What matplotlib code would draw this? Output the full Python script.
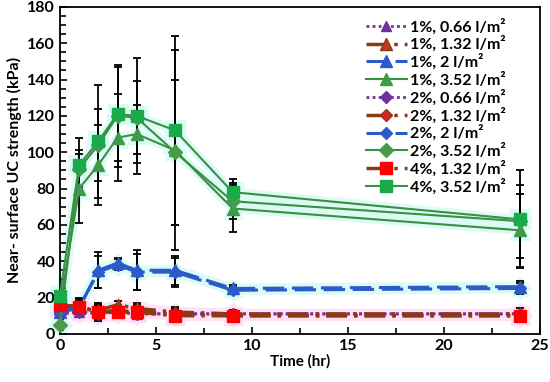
import matplotlib
matplotlib.use("Agg")
import matplotlib.pyplot as plt
from matplotlib.ticker import MultipleLocator

# ==================================
# Data
# ==================================
time_hr = [0, 1, 2, 3, 4, 6, 9, 24]

labels = [
    "1%, 0.66 l/m²",
    "1%, 1.32 l/m²",
    "1%, 2 l/m²",
    "1%, 3.52 l/m²",
    "2%, 0.66 l/m²",
    "2%, 1.32 l/m²",
    "2%, 2 l/m²",
    "2%, 3.52 l/m²",
    "4%, 1.32 l/m²",
    "4%, 3.52 l/m²",
]

p1_066 = [12, 12, 12, 12, 11, 11, 11, 11]
p1_132 = [15, 14, 13, 16, 14, 12, 11, 11]
p1_2 = [12, 14, 35, 39, 35, 35, 25, 26]
p1_352 = [15, 80, 93, 108, 110, 101, 69, 57]
p2_066 = [11, 12, 11, 12, 11, 11, 11, 11]
p2_132 = [14, 15, 12, 13, 12, 11, 10, 10]
p2_2 = [12, 15, 34, 38, 34, 34, 24, 25]
p2_352 = [5, 91, 104, 120, 119, 100, 73, 62]
p4_132 = [16, 15, 12, 12, 12, 10, 10, 10]
p4_352 = [21, 93, 106, 121, 120, 112, 78, 63]

e1_066 = [0, 0, 0, 0, 0, 0, 0, 0]
e1_132 = [2, 3, 3, 2, 3, 3, 2, 3]
e1_2 = [2, 3, 10, 3, 11, 8, 2, 3]
e1_352 = [3, 19, 22, 24, 16, 55, 13, 20]
e2_066 = [0, 0, 0, 0, 0, 0, 0, 0]
e2_132 = [2, 5, 5, 3, 4, 3, 2, 2]
e2_2 = [2, 3, 9, 3, 10, 8, 2, 3]
e2_352 = [3, 10, 20, 28, 20, 40, 10, 20]
e4_132 = [2, 4, 4, 3, 3, 3, 2, 2]
e4_352 = [3, 15, 31, 26, 32, 52, 7, 27]

values = [p1_066, p1_132, p1_2, p1_352, p2_066, p2_132, p2_2, p2_352, p4_132, p4_352]
errors = [e1_066, e1_132, e1_2, e1_352, e2_066, e2_132, e2_2, e2_352, e4_132, e4_352]

# ==================================
# Styles
# ==================================
purple = "#7030a0"
brown = "#8b3a12"
blue = "#2a5bc8"
green = "#3a8f42"
glow_pink = "#ffe0f4"
glow_cyan = "#dcfbf7"

dotted = (0, (1, 1.2))
dashdot = (0, (6, 2, 1, 2))
longdash = (0, (7, 2.5))

styles = [
    dict(color=purple, ls=dotted, lw=2, marker="^", mfc=purple, mec=purple, ms=7, glow=glow_pink),
    dict(color=brown, ls=dashdot, lw=2.5, marker="^", mfc="#c0392b", mec=brown, ms=8, glow=glow_pink),
    dict(color=blue, ls=longdash, lw=2.2, marker="^", mfc=blue, mec=blue, ms=8, glow=glow_cyan),
    dict(color=green, ls="-", lw=1.5, marker="^", mfc="#3d9b47", mec="#3d9b47", ms=9, glow=glow_cyan),
    dict(color=purple, ls=dotted, lw=2, marker="D", mfc=purple, mec=purple, ms=6, glow=glow_pink),
    dict(color=brown, ls=dashdot, lw=2.5, marker="D", mfc="#e02020", mec=brown, ms=6, glow=glow_pink),
    dict(color=blue, ls=longdash, lw=2.2, marker="D", mfc=blue, mec=blue, ms=6, glow=glow_cyan),
    dict(color=green, ls="-", lw=1.5, marker="D", mfc="#4a9a4a", mec="#4a9a4a", ms=7, glow=glow_cyan),
    dict(color=brown, ls=dashdot, lw=2.5, marker="s", mfc="#ff0000", mec="#ff0000", ms=8, glow=glow_pink),
    dict(color=green, ls="-", lw=1.5, marker="s", mfc="#1aaa4a", mec="#1aaa4a", ms=9, glow=glow_cyan),
]

# ==================================
# Plot
# ==================================
plt.rcParams["font.family"] = ["Lato", "DejaVu Sans"]
plt.rcParams["font.weight"] = "bold"

fig = plt.figure(figsize=(5.5, 3.82), dpi=100)
ax = fig.add_axes([0.109, 0.126, 0.872, 0.856])

# soft halo under each series (no legend entry)
for vals, st in zip(values, styles):
    ax.plot(time_hr, vals, color=st["glow"], linewidth=st["lw"] + 5,
            marker=st["marker"], markersize=st["ms"] + 5,
            markerfacecolor=st["glow"], markeredgecolor=st["glow"],
            solid_capstyle="butt", zorder=1, clip_on=False)

# error bars
for vals, errs in zip(values, errors):
    if any(errs):
        ax.errorbar(time_hr, vals, yerr=errs, fmt="none", ecolor="black",
                    elinewidth=1.3, capsize=3, capthick=1.3, zorder=2)

for vals, label, st in zip(values, labels, styles):
    ax.plot(time_hr, vals, color=st["color"], linestyle=st["ls"],
            linewidth=st["lw"], marker=st["marker"], markersize=st["ms"],
            markerfacecolor=st["mfc"], markeredgecolor=st["mec"],
            label=label, zorder=3, clip_on=False)

ax.set_xlim(0, 25)
ax.set_ylim(0, 180)
ax.xaxis.set_major_locator(MultipleLocator(5))
ax.xaxis.set_minor_locator(MultipleLocator(2.5))
ax.yaxis.set_major_locator(MultipleLocator(20))
ax.yaxis.set_minor_locator(MultipleLocator(5))
ax.tick_params(which="both", direction="in", width=1.2, labelsize=11.5)
ax.tick_params(which="major", length=5)
ax.tick_params(which="minor", length=4)
for spine in ax.spines.values():
    spine.set_linewidth(1.3)

ax.set_xlabel("Time (hr)", fontsize=11, fontweight="bold", labelpad=1)
ax.set_ylabel("Near- surface UC strength (kPa)", fontsize=11.5, fontweight="bold", labelpad=4)

leg = ax.legend(loc="upper right", bbox_to_anchor=(0.95, 0.995), frameon=False,
                fontsize=11.5, handlelength=2.6, handletextpad=0.2,
                labelspacing=0.1, borderaxespad=0.2)
for txt in leg.get_texts():
    txt.set_fontweight("bold")

fig.savefig("out.png", dpi=100)
